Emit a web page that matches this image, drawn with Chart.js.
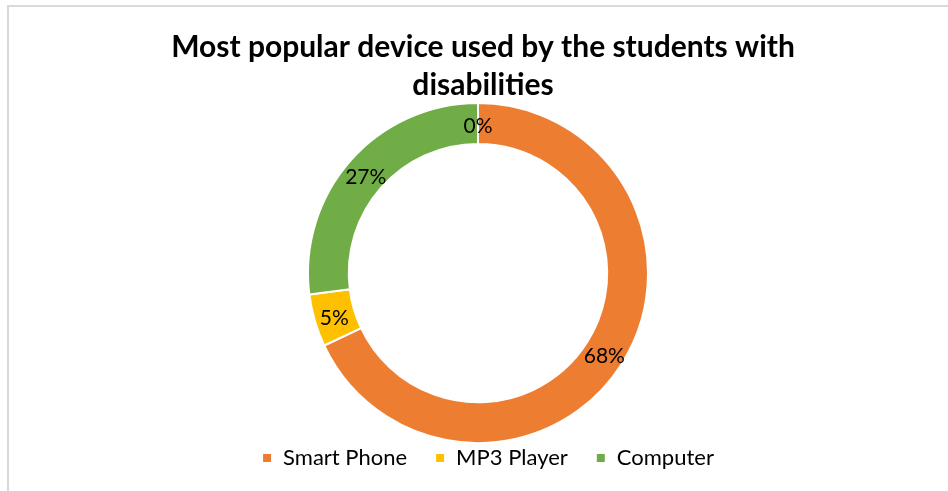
<!DOCTYPE html>
<html>
<head>
<meta charset="utf-8">
<script src="https://cdn.jsdelivr.net/npm/chart.js@4/dist/chart.umd.min.js"></script>
<style>
  html, body { margin: 0; padding: 0; background: #fff; }
  #frame { position: absolute; left: 7px; top: 5px; width: 960px; height: 500px;
           border-left: 2px solid #d9d9d9; border-top: 2px solid #d9d9d9; }
  #wrap { position: absolute; left: 0; top: 0; width: 948px; height: 491px; }
</style>
</head>
<body>
<div id="frame"></div>
<div id="wrap"><canvas id="pie"></canvas></div>
<script>
const devices = ['Smart Phone', 'MP3 Player', 'Computer', ''];
const shares = [68, 5, 27, 0];
const colors = ['#ED7D31', '#FFC000', '#70AD47', '#4472C4'];
const titleLines = ['Most popular device used by the students with', 'disabilities'];

const FONT = 'Lato, "Open Sans", sans-serif';

// draws the percentage in the middle of each ring segment
const sliceLabels = {
  id: 'sliceLabels',
  afterDatasetsDraw(chart) {
    const ctx = chart.ctx;
    const meta = chart.getDatasetMeta(0);
    ctx.save();
    ctx.font = '21px ' + FONT;
    ctx.fillStyle = '#000';
    ctx.textAlign = 'center';
    ctx.textBaseline = 'middle';
    meta.data.forEach((arc, i) => {
      const p = arc.getCenterPoint();
      ctx.fillText(shares[i] + '%', p.x, p.y + 3);
    });
    ctx.restore();
  }
};

// title and legend sit a little right of the ring in the original
const nudge = {
  id: 'nudge',
  afterLayout(chart) {
    chart.titleBlock.left += 5;
    chart.titleBlock.right += 5;
    chart.legend.left += 10;
    chart.legend.right += 10;
  }
};

new Chart(document.getElementById('pie'), {
  type: 'doughnut',
  data: {
    labels: devices,
    datasets: [{
      data: shares,
      backgroundColor: colors,
      borderColor: '#fff',
      borderWidth: 2,
      radius: 170
    }]
  },
  options: {
    responsive: true,
    maintainAspectRatio: false,
    animation: false,
    cutout: '76%',
    layout: { padding: { left: 8, bottom: 12 } },
    plugins: {
      tooltip: { enabled: false },
      title: {
        display: true,
        text: titleLines,
        color: '#000',
        font: { family: FONT, size: 30, weight: 'bold', lineHeight: 1.27 },
        padding: { top: 28, bottom: 23 }
      },
      legend: {
        position: 'bottom',
        labels: {
          color: '#000',
          font: { family: FONT, size: 22 },
          boxWidth: 10,
          boxHeight: 10,
          padding: 28,
          filter: item => item.text !== ''
        }
      }
    }
  },
  plugins: [sliceLabels, nudge]
});
</script>
</body>
</html>
